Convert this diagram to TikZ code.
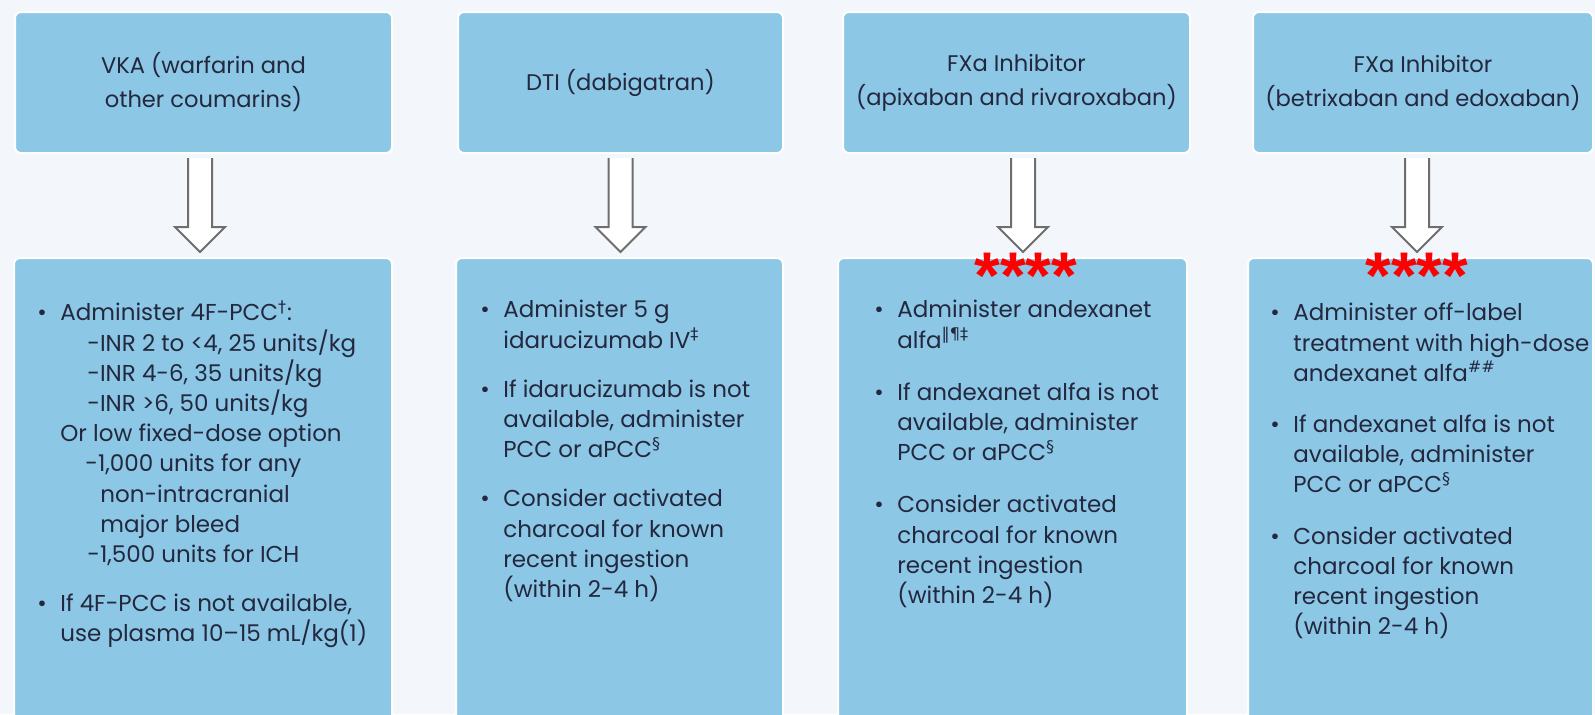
\documentclass[tikz,border=0pt]{standalone}
\usepackage{fontspec}
\setmainfont{Poppins}
\newfontfamily\symf{DejaVu Sans}
\newfontfamily\starf{Liberation Sans}
\usetikzlibrary{calc}
\definecolor{boxblue}{RGB}{140,199,230}
\definecolor{bgcol}{RGB}{243,246,250}
\definecolor{txt}{RGB}{35,40,62}
\definecolor{arrgray}{RGB}{110,110,110}
\newcommand\sy[1]{\textsuperscript{\symf #1}}
\newcommand\bul{\par\hangindent=11.5pt\hangafter=1\noindent\makebox[11.5pt][l]{\textbullet}}
\newcommand\hollowarrow[3]{%
  \coordinate (#1-a) at ($(#1.south)+(#3,0)$);
  \coordinate (#1-b) at (#1-a |- #2.north);
  \draw[hollow] ($(#1-a)+(-12,4)$) -- ($(#1-b)+(-12,-30)$) -- ($(#1-b)+(-25,-30)$)
     -- ($(#1-b)+(0,-5)$) -- ($(#1-b)+(25,-30)$) -- ($(#1-b)+(12,-30)$) -- ($(#1-a)+(12,4)$);
}
\newcommand\bodytext[2][9.5pt]{\parbox[t]{200pt}{\setlength{\parskip}{#1}\setlength{\parindent}{0pt}\lineskiplimit=-20pt #2}}
\tikzset{
  topbox/.style={rectangle, rounded corners=3pt, fill=boxblue, draw=white, line width=1pt,
    inner sep=0pt, align=center, text=txt, font=\fontsize{11.3}{17}\selectfont},
  botbox/.style={rectangle, rounded corners=3pt, fill=boxblue, draw=white, line width=1pt, inner sep=0pt},
  body/.style={anchor=north west, inner sep=0pt, text=txt, font=\fontsize{11.5}{15.1}\selectfont},
  hollow/.style={draw=arrgray, fill=white, line width=1pt, line join=miter},
  stars/.style={anchor=base, text=red, font=\starf\bfseries\fontsize{33}{33}\selectfont, inner sep=0pt}
}
\begin{document}
\begin{tikzpicture}[x=0.5pt,y=-0.5pt]
\useasboundingbox (0,0) rectangle (1595,714);
\clip (0,0) rectangle (1595,714);
\fill[bgcol] (0,0) rectangle (1595,714);

% top boxes
\node[topbox, minimum width=188.5pt, minimum height=70.5pt] (t1) at (203.5,82.5) {VKA (warfarin and\\other coumarins)};
\node[topbox, minimum width=162.5pt, minimum height=70.5pt] (t2) at (620.5,82.5) {DTI (dabigatran)};
\node[topbox, minimum width=173.5pt, minimum height=70.5pt] (t3) at (1016.5,82.5) {FXa Inhibitor\\(apixaban and rivaroxaban)};
\node[topbox, minimum width=170pt, minimum height=70.5pt] (t4) at (1423,82.5) {FXa Inhibitor\\(betrixaban and edoxaban)};

% bottom boxes
\node[botbox, minimum width=189pt, minimum height=241pt] (b1) at (203,499) {};
\node[botbox, minimum width=163.5pt, minimum height=241pt] (b2) at (619.5,499) {};
\node[botbox, minimum width=174.5pt, minimum height=241pt] (b3) at (1012.5,499) {};
\node[botbox, minimum width=172.5pt, minimum height=241pt] (b4) at (1420.5,499) {};

% arrows
\hollowarrow{t1}{b1}{-3.5}
\hollowarrow{t2}{b2}{0}
\hollowarrow{t3}{b3}{6.5}
\hollowarrow{t4}{b4}{-6}

% stars
\node[stars] (s3) at (1026,298) {****};
\node[stars] (s4) at (1417,298) {****};

% body texts
\node[body] (b1t) at (37,300) {\bodytext{%
\bul Administer 4F-PCC\sy{†}:\\
\hspace*{13.5pt}-INR 2 to <4, 25 units/kg\\
\hspace*{13.5pt}-INR 4-6, 35 units/kg\\
\hspace*{13.5pt}-INR >6, 50 units/kg\\
Or low fixed-dose option\\
\hspace*{12.5pt}-1,000 units for any\\
\hspace*{20pt}non-intracranial\\
\hspace*{20pt}major bleed\\
\hspace*{13.5pt}-1,500 units for ICH
\bul If 4F-PCC is not available,\\
use plasma 10–15 mL/kg(1)}};

\node[body] (b2t) at (480,300) {\bodytext{%
\bul Administer 5 g\\
idarucizumab IV\sy{‡}
\bul If idarucizumab is not\\
available, administer\\
PCC or aPCC\sy{§}
\bul Consider activated\\
charcoal for known\\
recent ingestion\\
(within 2-4 h)}};

\node[body] (b3t) at (874,300) {\bodytext[11pt]{%
\bul Administer andexanet\\
\rule{0pt}{12.5pt}alfa\sy{‖¶‡}
\bul If andexanet alfa is not\\
available, administer\\
PCC or aPCC\sy{§}
\bul Consider activated\\
charcoal for known\\
recent ingestion\\
(within 2-4 h)}};

\node[body] (b4t) at (1270,303) {\bodytext[10.5pt]{%
\bul Administer off-label\\
treatment with high-dose\\
andexanet alfa\sy{\#\#}
\bul If andexanet alfa is not\\
available, administer\\
PCC or aPCC\sy{§}
\bul Consider activated\\
charcoal for known\\
recent ingestion\\
(within 2-4 h)}};
\end{tikzpicture}
\end{document}
